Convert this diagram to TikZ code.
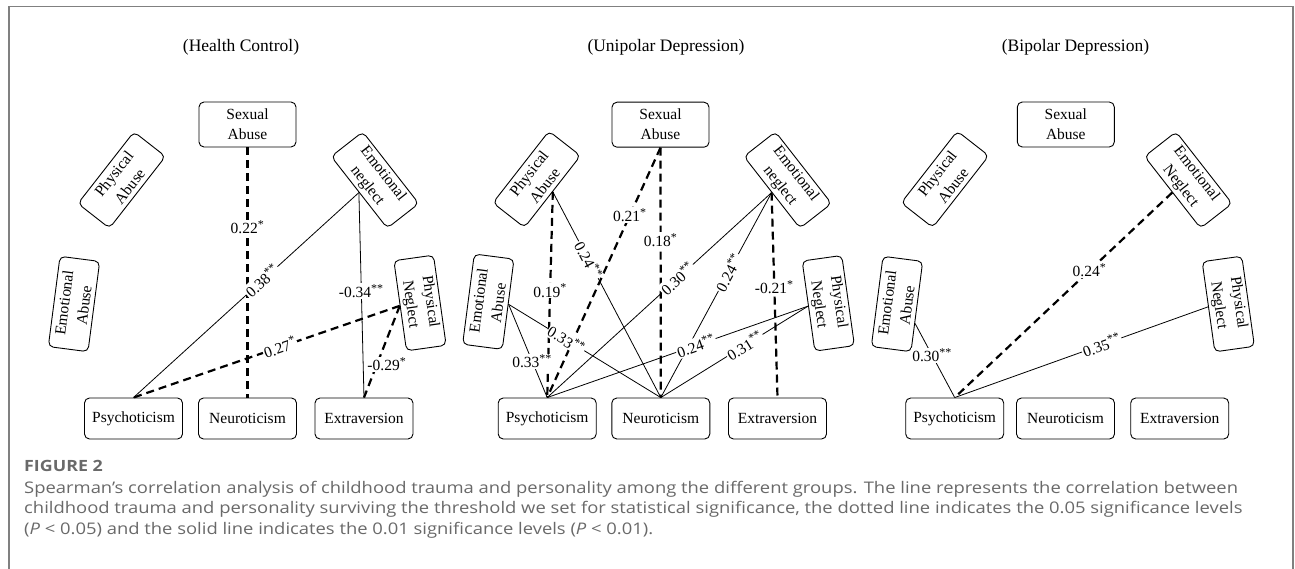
\documentclass[tikz,border=0pt]{standalone}
\usepackage{fontspec}
\setmainfont{Liberation Serif}
\newfontfamily\capfont[FakeStretch=1.15]{Open Sans}
\usetikzlibrary{calc}
\definecolor{capgray}{RGB}{105,105,105}
\definecolor{framegray}{RGB}{128,128,128}
\newcommand{\st}[1]{\textsuperscript{\fontsize{12}{12}\selectfont #1}}
\begin{document}
\begin{tikzpicture}[x=1pt,y=-1pt,
  box/.style={draw, line width=0.9pt, rounded corners=5pt, align=center, inner sep=0pt, font=\fontsize{15.5}{20}\selectfont},
  topbox/.style={box, minimum width=97pt, minimum height=45pt},
  rbox/.style={box, minimum width=91pt, minimum height=40pt},
  botbox/.style={box, minimum width=98pt, minimum height=41pt},
  hdr/.style={font=\fontsize{17.5}{20}\selectfont},
  sig/.style={line width=0.8pt},
  sigd/.style={line width=2.2pt, dash pattern=on 8pt off 5pt},
  lbl/.style={fill=white, inner sep=1pt, font=\fontsize{15.5}{16}\selectfont},
]
\useasboundingbox (0,0) rectangle (1295,569);
\draw[framegray, line width=1.5pt] (9,569) -- (9,6.5) -- (1293,6.5) -- (1293,569);

% headers
\node[hdr] (h1) at (241,47) {(Health Control)};
\node[hdr] (h2) at (666,47) {(Unipolar Depression)};
\node[hdr] (h3) at (1075.5,47) {(Bipolar Depression)};

% ---------- Health Control ----------
\node[topbox] (hSA) at (247.5,124.5) {Sexual\\Abuse};
\node[rbox, rotate=52] (hPA) at (121.7,180) {Physical\\Abuse};
\node[rbox, rotate=-52] (hEN) at (375,180) {Emotional\\neglect};
\node[rbox, rotate=82.6] (hEA) at (74,304) {Emotional\\Abuse};
\node[rbox, rotate=-82] (hPN) at (420,303) {Physical\\Neglect};
\node[botbox] (hP) at (133.5,418.5) {Psychoticism};
\node[botbox] (hN) at (247.5,418.5) {Neuroticism};
\node[botbox] (hE) at (364,418.5) {Extraversion};

\draw[sigd] (hSA.south) -- node[lbl,pos=0.32]{0.22\st{*}} (hN.north);
\draw[sig] (hEN.south) -- node[lbl,pos=0.43,sloped]{0.38\st{**}} (hP.north);
\draw[sig] (hEN.south) -- node[lbl,pos=0.48]{-0.34\st{**}} (hE.north);
\draw[sigd] (hPN.south) -- node[lbl,pos=0.45,sloped]{0.27\st{*}} (hP.north);
\draw[sigd] (hPN.south) -- node[lbl,pos=0.64,xshift=10pt]{-0.29\st{*}} (hE.north);

% ---------- Unipolar Depression ----------
\node[topbox] (uSA) at (660.5,124.7) {Sexual\\Abuse};
\node[rbox, rotate=52] (uPA) at (536.7,179.3) {Physical\\Abuse};
\node[rbox, rotate=-52] (uEN) at (787.7,180) {Emotional\\neglect};
\node[rbox, rotate=82.6] (uEA) at (488.3,301.7) {Emotional\\Abuse};
\node[rbox, rotate=-82] (uPN) at (828.3,303.3) {Physical\\Neglect};
\node[botbox] (uP) at (547.2,418.5) {Psychoticism};
\node[botbox] (uN) at (660.8,418.5) {Neuroticism};
\node[botbox] (uE) at (777.5,418.5) {Extraversion};

\draw[sigd] (uPA.south) -- node[lbl,pos=0.48]{0.19\st{*}} (uP.north);
\draw[sig] (uPA.south) -- node[lbl,pos=0.33,sloped]{0.24\st{**}} (uN.north);
\draw[sigd] (uSA.south) -- node[lbl,pos=0.27]{0.21\st{*}} (uP.north);
\draw[sigd] (uSA.south) -- node[lbl,pos=0.37]{0.18\st{*}} (uN.north);
\draw[sig] (uEN.south) -- node[lbl,pos=0.42,sloped]{0.30\st{**}} (uP.north);
\draw[sig] (uEN.south) -- node[lbl,pos=0.39,sloped]{0.24\st{**}} (uN.north);
\draw[sigd] (uEN.south) -- node[lbl,pos=0.46]{-0.21\st{*}} (uE.north);
\draw[sig] (uEA.south) -- node[lbl,pos=0.61]{0.33\st{**}} (uP.north);
\draw[sig] (uEA.south) -- node[lbl,pos=0.38,sloped]{0.33\st{**}} (uN.north);
\draw[sig] (uPN.south) -- node[lbl,pos=0.43,sloped]{0.24\st{**}} (uP.north);
\draw[sig] (uPN.south) -- node[lbl,pos=0.43,sloped]{0.31\st{**}} (uN.north);

% ---------- Bipolar Depression ----------
\node[topbox] (bSA) at (1065.8,124.5) {Sexual\\Abuse};
\node[rbox, rotate=52] (bPA) at (945,179.3) {Physical\\Abuse};
\node[rbox, rotate=-52] (bEN) at (1188.3,180) {Emotional\\Neglect};
\node[rbox, rotate=82.6] (bEA) at (897,304) {Emotional\\Abuse};
\node[rbox, rotate=-82] (bPN) at (1228.3,304) {Physical\\Neglect};
\node[botbox] (bP) at (954.7,418.5) {Psychoticism};
\node[botbox] (bN) at (1065.5,418.5) {Neuroticism};
\node[botbox] (bE) at (1179.7,418.5) {Extraversion};

\draw[sig] ($(bEA.south)!0.37!(bEA.south west)$) -- node[lbl,pos=0.43]{0.30\st{**}} (bP.north);
\draw[sigd] (bEN.south) -- node[lbl,pos=0.38]{0.24\st{*}} (bP.north);
\draw[sig] (bPN.south) -- node[lbl,pos=0.42,sloped]{0.35\st{**}} (bP.north);

% ---------- caption ----------
\node[anchor=west, inner sep=0pt, text=capgray, font=\capfont\bfseries\fontsize{15.5}{16}\selectfont] (fig) at (24,466) {FIGURE 2};
\node[anchor=north west, align=left, inner sep=0pt, text=capgray, font=\capfont\fontsize{16}{20.5}\selectfont] (cap) at (24,481)
{Spearman’s correlation analysis of childhood trauma and personality among the different groups. The line represents the correlation between\\
childhood trauma and personality surviving the threshold we set for statistical significance, the dotted line indicates the 0.05 significance levels\\
(\textit{P} {<} 0.05) and the solid line indicates the 0.01 significance levels (\textit{P} {<} 0.01).};
\end{tikzpicture}
\end{document}
